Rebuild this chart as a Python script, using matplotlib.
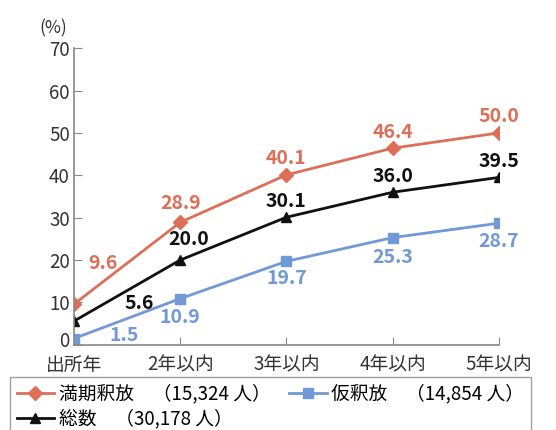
import matplotlib
matplotlib.use("Agg")
import matplotlib.pyplot as plt
from matplotlib.transforms import ScaledTranslation

plt.rcParams['font.family'] = ['Noto Sans CJK JP', 'DejaVu Sans']

categories = ['出所年', '2年以内', '3年以内', '4年以内', '5年以内']
manki = [9.6, 28.9, 40.1, 46.4, 50.0]
karishaku = [1.5, 10.9, 19.7, 25.3, 28.7]
total = [5.6, 20.0, 30.1, 36.0, 39.5]

legend_manki = '満期釈放　（15,324 人）'
legend_kari = '仮釈放　（14,854 人）'
legend_total = '総数　（30,178 人）'

red = '#dc6f58'
blue = '#7099d6'
black = '#111111'
grey = '#888888'

fig = plt.figure(figsize=(5.56, 4.30), dpi=100)
ax = fig.add_axes([0.133, 0.198, 0.764, 0.69])

x = list(range(len(categories)))
l1, = ax.plot(x, manki, color=red, marker='D', markersize=7, lw=2, label=legend_manki)
l2, = ax.plot(x, karishaku, color=blue, marker='s', markersize=7, lw=2, label=legend_kari)
l3, = ax.plot(x, total, color=black, marker='^', markersize=7, lw=2, label=legend_total)

# label centre offsets in points
red_off = [(21, 29), (0, 13.5), (0, 11.5), (0, 11), (0, 11.5)]
blue_off = [(36, 2), (0, -13.5), (0, -12), (0, -14.5), (0, -13.5)]
black_off = [(47, 13), (6, 14.5), (0, 11.5), (0, 11.5), (0, 11.5)]

for vals, offs, col in [(manki, red_off, red), (karishaku, blue_off, blue), (total, black_off, black)]:
    for i, v in enumerate(vals):
        ax.annotate(f'{v:.1f}', (i, v), xytext=offs[i], textcoords='offset points',
                    ha='center', va='center', fontsize=14, fontweight='bold', color=col)

ax.set_xlim(0, 4)
ax.set_ylim(0, 70)
ax.set_yticks(range(0, 71, 10))
ax.set_xticks(x)
ax.set_xticklabels(categories)
ax.tick_params(axis='both', direction='in', length=6, color=grey, labelsize=13.5, labelcolor='#333333')
ax.tick_params(axis='x', pad=7)
ax.tick_params(axis='y', pad=3)
for s in ['top', 'right']:
    ax.spines[s].set_visible(False)
for s in ['left', 'bottom']:
    ax.spines[s].set_color(grey)
    ax.spines[s].set_linewidth(1.2)

# lift the "0" a bit so it clears 出所年
zero_lbl = ax.get_yticklabels()[0]
zero_lbl.set_transform(zero_lbl.get_transform() + ScaledTranslation(0, 4 / 72, fig.dpi_scale_trans))

fig.text(0.095, 0.935, '(%)', fontsize=12.5, color='#333333', ha='center', va='center')

leg = fig.legend([l1, l3, l2], [legend_manki, legend_total, legend_kari], ncol=2,
                 loc='upper left', bbox_to_anchor=(0.018, 0.123), fontsize=13.5,
                 frameon=True, fancybox=False, edgecolor=grey, handlelength=2.0,
                 columnspacing=1.0, labelspacing=0.2, borderpad=0.35, handletextpad=0.25,
                 borderaxespad=0)
leg.get_frame().set_linewidth(1.0)

fig.savefig('out.png', dpi=100)
